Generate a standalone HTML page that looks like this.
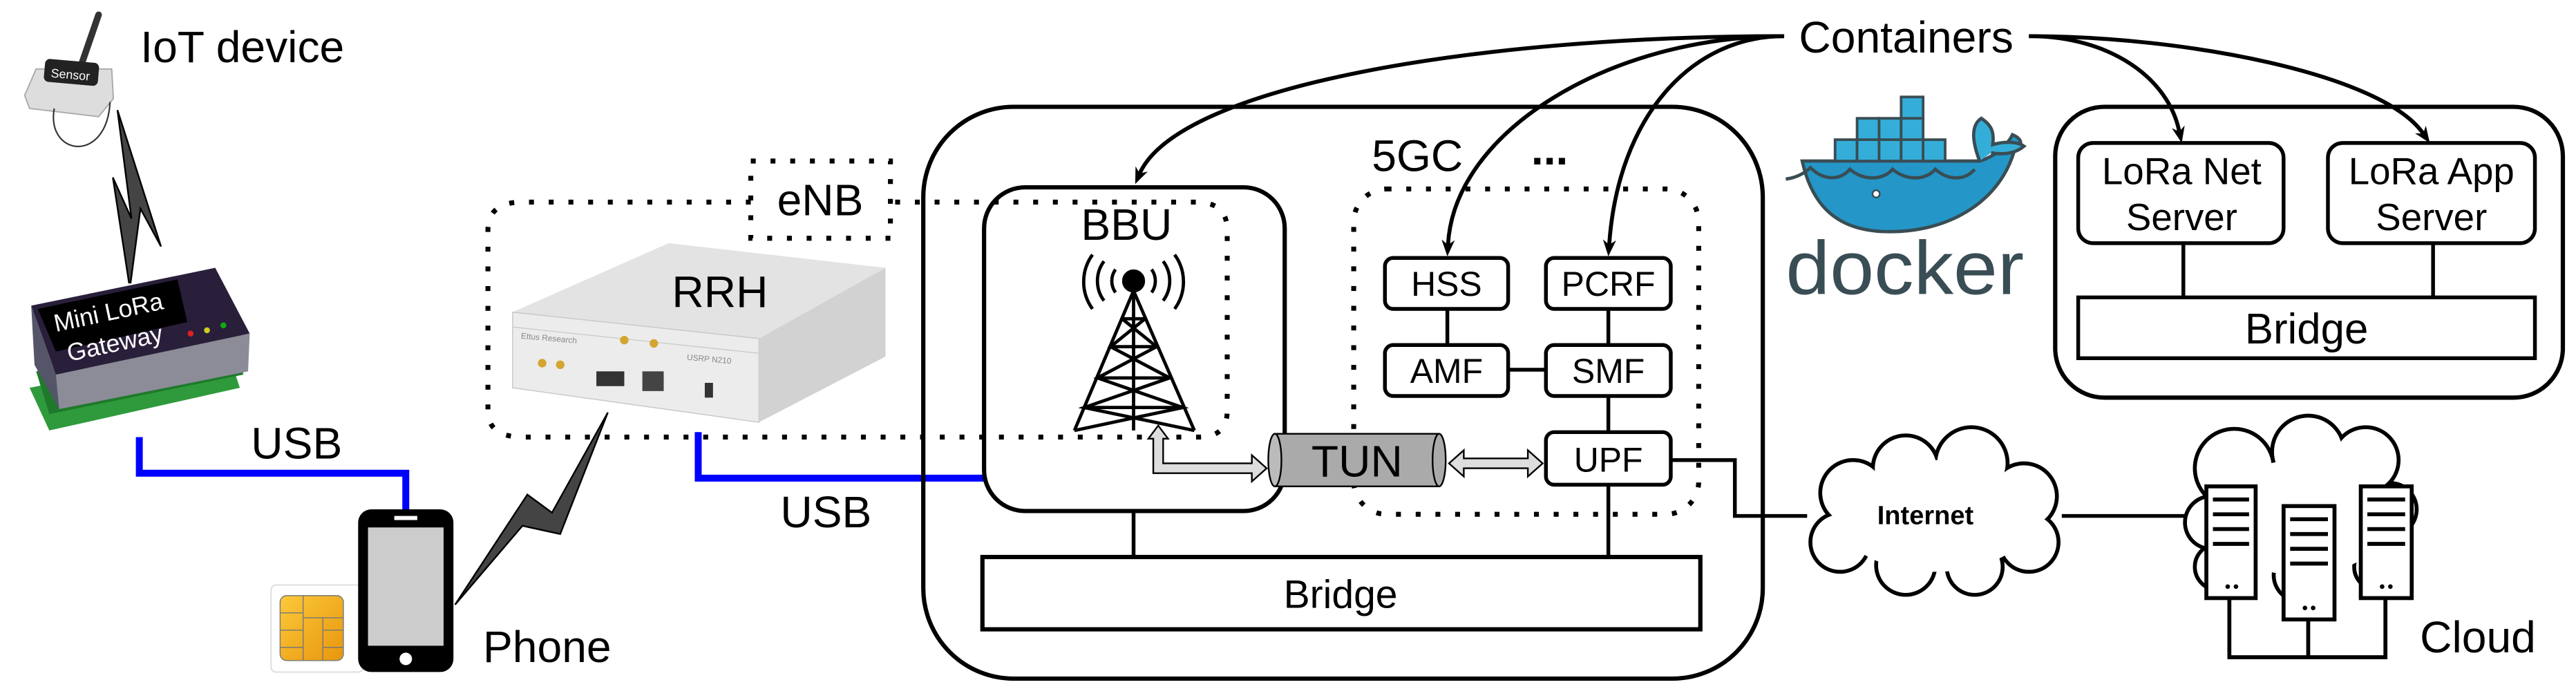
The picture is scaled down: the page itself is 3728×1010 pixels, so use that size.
<!DOCTYPE html>
<html><head><meta charset="utf-8"><style>
html,body{margin:0;padding:0;background:#fff;}
svg{display:block;}
text{font-family:"Liberation Sans",sans-serif;}
</style></head><body>
<svg width="3728" height="1010" viewBox="0 0 1568 424.8" preserveAspectRatio="none" xmlns="http://www.w3.org/2000/svg">
<defs>
<linearGradient id="gold" x1="0" y1="0" x2="1" y2="1"><stop offset="0" stop-color="#fcc93a"/><stop offset="1" stop-color="#e8960e"/></linearGradient>
</defs>
<rect width="1568" height="424.8" fill="#fff"/>

<!-- IoT sensor -->
<line x1="60" y1="9" x2="50" y2="38" stroke="#333" stroke-width="4" stroke-linecap="round"/>
<polygon points="15,58 22,42 68,42 69,60 60,71 18,66" fill="#ddd" stroke="#aaa" stroke-width="0.8"/>
<rect x="27" y="37" width="33" height="14" rx="3" fill="#222" transform="rotate(5 43 44)"/>
<text x="43" y="48" font-size="7.5" fill="#fff" text-anchor="middle" transform="rotate(5 43 44)">Sensor</text>
<path d="M33,66 C28,95 65,100 67,62" fill="none" stroke="#333" stroke-width="0.9"/>
<text x="85.5" y="37.8" font-size="27">IoT device</text>

<!-- bolt 1 -->
<polygon points="71.5,67 98,150 85.5,127 79.5,172 78.5,172 68.7,108 80,133" fill="#444" stroke="#000" stroke-width="1"/>

<!-- Gateway -->
<polygon points="18,236 138,212 146,236 30,262" fill="#2f9a3c"/>
<polygon points="22,226 147,203 148,228 30,252" fill="#1e7a2a"/>
<polygon points="19,186 131,163 152,203 34,228" fill="#2a1f3a"/>
<polygon points="34,228 152,203 151,226 36,249" fill="#8c8c99"/>
<polygon points="19,186 34,228 36,249 21,222" fill="#55556a"/>
<polygon points="23,188 108,170 114,196 34,214" fill="#000"/>
<text x="34" y="202" font-size="15" fill="#fff" transform="rotate(-12 34 202)">Mini LoRa</text>
<text x="42" y="220" font-size="15" fill="#fff" transform="rotate(-12 42 220)">Gateway</text>
<circle cx="116" cy="203" r="1.8" fill="#d22"/><circle cx="126" cy="201" r="1.8" fill="#cc2"/><circle cx="136" cy="198" r="1.8" fill="#1a1"/>

<!-- USB 1 -->
<path d="M84.8,266 V288 H247 V310" fill="none" stroke="#0000ff" stroke-width="4.2"/>
<text x="152.8" y="279" font-size="27">USB</text>

<!-- SIM -->
<rect x="165" y="356" width="56" height="53" rx="3" fill="#fff" stroke="#ddd" stroke-width="0.8"/>
<rect x="170.5" y="362.5" width="38.5" height="39.5" rx="4" fill="url(#gold)" stroke="#777" stroke-width="0.6"/>
<path d="M184.5,362.5 V402 M170.5,373 H184.5 M170.5,383.5 H184.5 M170.5,394 H184.5 M196.5,402 V376 H209 M196.5,383.5 H209 M196.5,394 H209 M184.5,376 H196.5" fill="none" stroke="#777" stroke-width="0.6"/>

<!-- Phone -->
<rect x="218" y="310" width="58" height="99" rx="8" fill="#000"/>
<rect x="224" y="321" width="46" height="72" fill="#ccc"/>
<rect x="240" y="314" width="14" height="2.5" fill="#fff"/>
<circle cx="247" cy="401" r="3.8" fill="#fff"/>
<text x="294" y="403" font-size="27">Phone</text>

<!-- bolt 2 -->
<polygon points="370,251 341,325 318,320 277,368 321,301 336,312" fill="#444" stroke="#000" stroke-width="1"/>

<!-- RRH device -->
<polygon points="312,190 407,148 539,163 462,206" fill="#e3e3e3"/>
<polygon points="312,190 462,206 462,257 312,236" fill="#ececec" stroke="#c8c8c8" stroke-width="0.6"/>
<polygon points="462,206 539,163 539,217 462,257" fill="#d2d2d2"/>
<line x1="312" y1="199" x2="462" y2="215" stroke="#ccc" stroke-width="0.6"/>
<circle cx="330" cy="221" r="2.6" fill="#d4a530"/><circle cx="341" cy="222" r="2.6" fill="#d4a530"/>
<circle cx="380" cy="207" r="2.6" fill="#d4a530"/><circle cx="398" cy="209" r="2.6" fill="#d4a530"/>
<rect x="363" y="226" width="17" height="9" fill="#333"/>
<rect x="391" y="226" width="13" height="12" fill="#444"/>
<rect x="429" y="233" width="5" height="9" fill="#333"/>
<text x="317" y="206" font-size="5" fill="#888" transform="rotate(5 317 206)">Ettus Research</text>
<text x="418" y="219" font-size="5" fill="#888" transform="rotate(5 418 219)">USRP N210</text>
<text x="409" y="187" font-size="27">RRH</text>

<!-- eNB dotted -->
<g fill="none" stroke="#000" stroke-width="3" stroke-dasharray="3 9">
<rect x="457" y="98" width="85" height="47"/>
<path d="M457,123 H318 Q297,123 297,140 V250 Q297,266 318,266 H730 Q747,266 747,250 V140 Q747,123 728,123 H542"/>
</g>
<text x="473" y="131" font-size="27">eNB</text>

<!-- USB 2 -->
<path d="M425,263 V291 H600" fill="none" stroke="#0000ff" stroke-width="4.2"/>
<text x="475" y="321" font-size="27">USB</text>

<!-- Big container -->
<rect x="562" y="65" width="511" height="348" rx="55" fill="none" stroke="#000" stroke-width="2.6"/>
<rect x="599" y="114" width="183" height="197" rx="25" fill="none" stroke="#000" stroke-width="2.6"/>
<text x="658" y="146" font-size="27">BBU</text>

<!-- tower -->
<g stroke="#000" fill="none" stroke-width="2">
<circle cx="690" cy="171" r="6" fill="#000"/>
<path d="M679,164 A12,12 0 0 0 679,178 M701,164 A12,12 0 0 1 701,178"/>
<path d="M672,159 A20,20 0 0 0 672,183 M708,159 A20,20 0 0 1 708,183"/>
<path d="M665,155 A28,28 0 0 0 665,188 M715,155 A28,28 0 0 1 715,188"/>
<path d="M690,177 L654,262 M690,177 L727,262 M690,177 V262"/>
<path d="M683,194 L697,194 M676,211 L704,211 M668,230 L712,230 M660,248 L720,248"/>
<path d="M683,194 L704,211 L668,230 L720,248 L654,262 M697,194 L676,211 L712,230 L660,248 L727,262"/>
</g>

<!-- 5GC -->
<rect x="824" y="115" width="210" height="198" rx="20" fill="none" stroke="#000" stroke-width="3" stroke-dasharray="3 9"/>
<text x="835" y="104" font-size="27">5GC</text>
<text x="932" y="100" font-size="27" font-weight="bold">...</text>
<g stroke="#000" stroke-width="2.3" fill="#fff">
<line x1="881" y1="188" x2="881" y2="210"/><line x1="979" y1="188" x2="979" y2="210"/>
<line x1="979" y1="241" x2="979" y2="263"/><line x1="918" y1="225" x2="941" y2="225"/>
<line x1="690" y1="311" x2="690" y2="339"/><line x1="979" y1="295" x2="979" y2="339"/>
<rect x="843" y="157" width="75" height="31" rx="5"/>
<rect x="941" y="157" width="76" height="31" rx="5"/>
<rect x="843" y="210" width="75" height="31" rx="5"/>
<rect x="941" y="210" width="76" height="31" rx="5"/>
<rect x="941" y="263" width="76" height="32" rx="5"/>
</g>
<g font-size="21" text-anchor="middle">
<text x="880.5" y="180">HSS</text><text x="979" y="180">PCRF</text>
<text x="880.5" y="233">AMF</text><text x="979" y="233">SMF</text>
<text x="979" y="287">UPF</text>
</g>

<!-- TUN -->
<rect x="776" y="264" width="100" height="32" fill="#aaa" stroke="#000" stroke-width="1"/>
<ellipse cx="876" cy="280" rx="4" ry="16" fill="#aaa" stroke="#000" stroke-width="1"/>
<ellipse cx="776" cy="280" rx="4" ry="16" fill="#bbb" stroke="#000" stroke-width="1"/>
<text x="826" y="290" font-size="27" text-anchor="middle">TUN</text>
<polygon points="705,259 711,267 708,267 708,282 762,282 762,277 771,285 762,293 762,288 702,288 702,267 699,267" fill="#ddd" stroke="#000" stroke-width="1"/>
<polygon points="882,282 891,274 891,279 930,279 930,274 939,282 930,290 930,285 891,285 891,290" fill="#ddd" stroke="#000" stroke-width="1"/>

<!-- Bridge -->
<rect x="598" y="339" width="437" height="44" fill="#fff" stroke="#000" stroke-width="2.6"/>
<text x="816" y="370" font-size="24" text-anchor="middle">Bridge</text>

<!-- UPF to internet -->
<path d="M1017,280 H1056 V314 H1100 M1255,314 H1330" fill="none" stroke="#000" stroke-width="2.3"/>

<!-- Containers arrows -->
<text x="1095" y="32" font-size="27">Containers</text>
<g fill="none" stroke="#000" stroke-width="2.4">
<path d="M1086,22 C 900,22 718,52 693.7,105.6"/>
<path d="M1086,22 C 980,22 885,80 881.4,149"/>
<path d="M1086,22 C 1030,22 985,70 979.5,149"/>
<path d="M1235,22 C 1285,22 1320,48 1326.5,80"/>
<path d="M1235,22 C 1330,22 1450,45 1475,81.3"/>
</g>
<g fill="#000">
<polygon points="691,112 698.6,104.4 693.7,105.6 691.2,101.2"/>
<polygon points="881,156 885.5,146.2 881.4,149 877.5,145.8"/>
<polygon points="979,156 983.7,146.3 979.5,149 975.7,145.7"/>
<polygon points="1328,87 1329.8,76.4 1326.5,80.1 1322,78"/>
<polygon points="1479,87 1476.6,76.5 1475,81.3 1470,81.1"/>
</g>

<!-- Docker logo -->
<g>
<path d="M1097,98 H1205 C1215,95 1222,88 1225,82 C1232,85 1231,89 1226,92 C1218,120 1190,141 1150,141 C1118,141 1103,125 1097,98 Z" fill="#2496c8" stroke="#394d54" stroke-width="2"/>
<path d="M1205,98 C1200,85 1200,76 1206,72 C1212,76 1214,80 1213,88 C1220,86 1228,86 1232,89 C1226,94 1218,94 1212,93" fill="#34aed8" stroke="#394d54" stroke-width="2"/>
<path d="M1087,109 C1095,108 1100,104 1102,102 C1110,110 1120,110 1126,103 C1134,110 1146,110 1152,103 C1160,110 1172,110 1178,103 C1186,110 1196,110 1202,103" fill="none" stroke="#394d54" stroke-width="2"/>
<g fill="#34aed8" stroke="#394d54" stroke-width="1.6">
<rect x="1117" y="85" width="13.4" height="13"/><rect x="1130.4" y="85" width="13.4" height="13"/><rect x="1143.8" y="85" width="13.4" height="13"/><rect x="1157.2" y="85" width="13.4" height="13"/><rect x="1170.6" y="85" width="13.4" height="13"/>
<rect x="1130.4" y="72" width="13.4" height="13"/><rect x="1143.8" y="72" width="13.4" height="13"/><rect x="1157.2" y="72" width="13.4" height="13"/>
<rect x="1157.2" y="59" width="13.4" height="13"/>
</g>
<circle cx="1142" cy="118" r="2.2" fill="#fff" stroke="#394d54" stroke-width="1"/>
<text x="1087" y="179" font-size="46" fill="#394d54" textLength="145" lengthAdjust="spacingAndGlyphs">docker</text>
</g>

<!-- Right container -->
<rect x="1251" y="65" width="309" height="177" rx="30" fill="none" stroke="#000" stroke-width="2.6"/>
<g stroke="#000" stroke-width="2.3" fill="#fff">
<line x1="1329" y1="148" x2="1329" y2="181"/><line x1="1481" y1="148" x2="1481" y2="181"/>
<rect x="1265" y="87" width="125" height="61" rx="9"/>
<rect x="1417" y="87" width="126" height="61" rx="9"/>
<rect x="1265" y="181" width="278" height="37"/>
</g>
<g font-size="23" text-anchor="middle">
<text x="1328" y="112">LoRa Net</text><text x="1328" y="140">Server</text>
<text x="1480" y="112">LoRa App</text><text x="1480" y="140">Server</text>
</g>
<text x="1404" y="209" font-size="26" text-anchor="middle">Bridge</text>

<!-- Internet cloud -->
<g stroke="#000" stroke-width="2.4" fill="#fff">
<circle cx="1128" cy="300" r="20"/><circle cx="1160" cy="285" r="20"/><circle cx="1200" cy="282" r="22"/><circle cx="1232" cy="302" r="20"/>
<circle cx="1235" cy="330" r="18"/><circle cx="1202" cy="345" r="17"/><circle cx="1160" cy="344" r="18"/><circle cx="1120" cy="330" r="18"/>
</g>
<g fill="#fff">
<circle cx="1128" cy="300" r="18.8"/><circle cx="1160" cy="285" r="18.8"/><circle cx="1200" cy="282" r="20.8"/><circle cx="1232" cy="302" r="18.8"/>
<circle cx="1235" cy="330" r="16.8"/><circle cx="1202" cy="345" r="15.8"/><circle cx="1160" cy="344" r="16.8"/><circle cx="1120" cy="330" r="16.8"/>
<ellipse cx="1178" cy="314" rx="60" ry="34"/>
</g>
<text x="1172" y="319" font-size="16" font-weight="bold" text-anchor="middle">Internet</text>

<!-- Server cloud -->
<g stroke="#000" stroke-width="2.4" fill="#fff">
<circle cx="1360" cy="285" r="24"/><circle cx="1405" cy="275" r="22"/><circle cx="1440" cy="280" r="20"/><circle cx="1455" cy="310" r="16"/>
<circle cx="1346" cy="318" r="16"/><circle cx="1350" cy="345" r="14"/><circle cx="1447" cy="345" r="14"/><circle cx="1400" cy="350" r="16"/>
</g>
<g fill="#fff">
<circle cx="1360" cy="285" r="22.8"/><circle cx="1405" cy="275" r="20.8"/><circle cx="1440" cy="280" r="18.8"/><circle cx="1455" cy="310" r="14.8"/>
<circle cx="1346" cy="318" r="14.8"/><circle cx="1350" cy="345" r="12.8"/><circle cx="1447" cy="345" r="12.8"/><circle cx="1400" cy="350" r="14.8"/>
<ellipse cx="1400" cy="315" rx="55" ry="35"/>
</g>
<path d="M1357,364 V400 H1452 V364 M1405,377 V400" fill="none" stroke="#000" stroke-width="2.4"/>
<g stroke="#000" stroke-width="2.4" fill="#fff">
<rect x="1343" y="296" width="30" height="68"/>
<rect x="1390" y="308" width="31" height="69"/>
<rect x="1437" y="296" width="31" height="68"/>
</g>
<g stroke="#000" stroke-width="2.4">
<path d="M1347,304 H1369 M1347,313 H1369 M1347,322 H1369 M1347,331 H1369"/>
<path d="M1394,316 H1417 M1394,325 H1417 M1394,334 H1417 M1394,343 H1417"/>
<path d="M1441,304 H1464 M1441,313 H1464 M1441,322 H1464 M1441,331 H1464"/>
</g>
<g fill="#000">
<circle cx="1356" cy="357" r="1.4"/><circle cx="1361" cy="357" r="1.4"/>
<circle cx="1403" cy="370" r="1.4"/><circle cx="1408" cy="370" r="1.4"/>
<circle cx="1450" cy="357" r="1.4"/><circle cx="1455" cy="357" r="1.4"/>
</g>
<text x="1473" y="397" font-size="27">Cloud</text>
</svg>
</body></html>
